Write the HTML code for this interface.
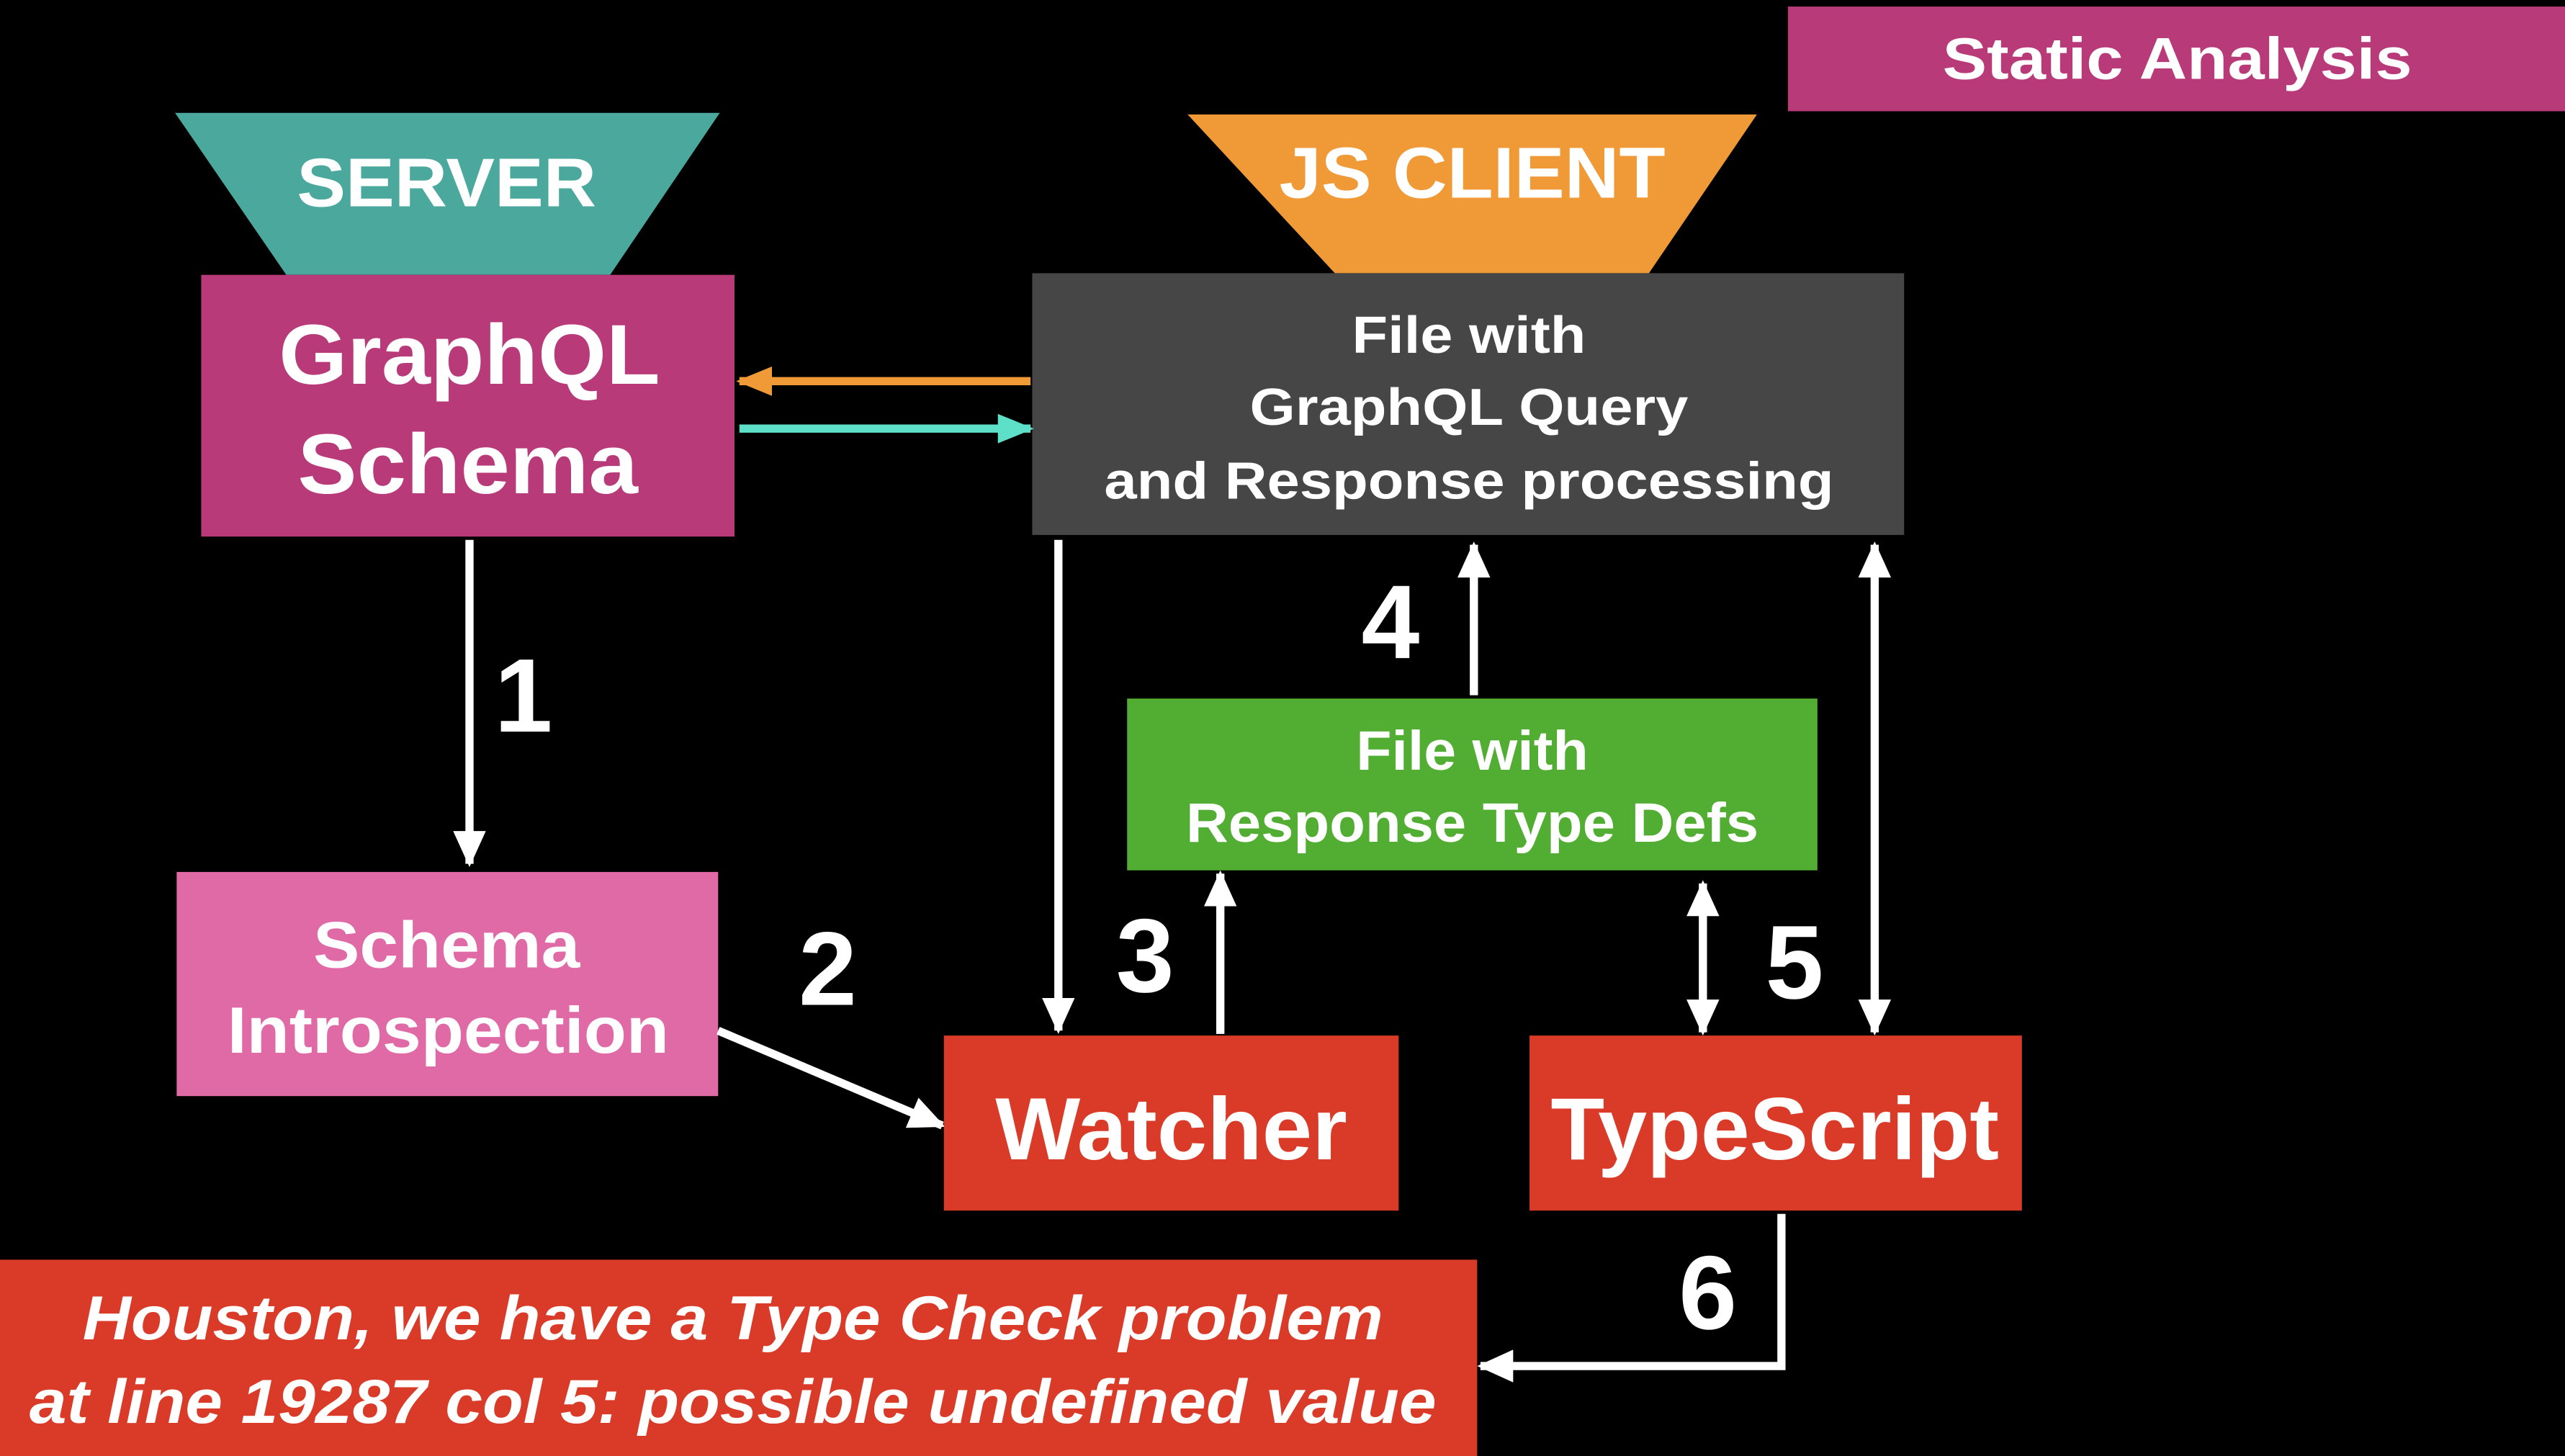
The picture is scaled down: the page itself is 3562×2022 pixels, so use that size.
<!DOCTYPE html>
<html><head><meta charset="utf-8"><style>
html,body{margin:0;padding:0;background:#000;}
svg{display:block;}
text{font-family:"Liberation Sans",sans-serif;font-weight:bold;fill:#fff;text-anchor:middle;dominant-baseline:central;}
</style></head><body>
<svg width="3562" height="2022" viewBox="0 0 1568 890" preserveAspectRatio="none" xmlns="http://www.w3.org/2000/svg">
<defs>
<marker id="wa" markerWidth="22" markerHeight="20" refX="20" refY="10" orient="auto-start-reverse" markerUnits="userSpaceOnUse"><path d="M0,0 L22,10 L0,20 z" fill="#fff"/></marker>
<marker id="oa" markerWidth="22" markerHeight="18" refX="20" refY="9" orient="auto" markerUnits="userSpaceOnUse"><path d="M0,0 L22,9 L0,18 z" fill="#f09a37"/></marker>
<marker id="ca" markerWidth="22" markerHeight="18" refX="20" refY="9" orient="auto" markerUnits="userSpaceOnUse"><path d="M0,0 L22,9 L0,18 z" fill="#5ee0c8"/></marker>
</defs>
<rect width="1568" height="890" fill="#000"/>

<rect x="1093" y="4" width="475" height="64" fill="#b83a78"/>
<text x="1331" y="36" font-size="36" textLength="287" lengthAdjust="spacingAndGlyphs">Static Analysis</text>

<polygon points="107,69 440,69 373,168 175,168" fill="#4ba89c"/>
<text x="273" y="112" font-size="42" textLength="183" lengthAdjust="spacingAndGlyphs">SERVER</text>
<rect x="123" y="168" width="326" height="160" fill="#b83a78"/>
<text x="287" y="217" font-size="52" textLength="233" lengthAdjust="spacingAndGlyphs">GraphQL</text>
<text x="286" y="284" font-size="52" textLength="208" lengthAdjust="spacingAndGlyphs">Schema</text>

<polygon points="726,70 1074,70 1008,167 816,167" fill="#f09a37"/>
<text x="900" y="106" font-size="44" textLength="236" lengthAdjust="spacingAndGlyphs">JS CLIENT</text>
<rect x="631" y="167" width="533" height="160" fill="#464646"/>
<text x="898" y="205" font-size="32" textLength="143" lengthAdjust="spacingAndGlyphs">File with</text>
<text x="898" y="249" font-size="32" textLength="268" lengthAdjust="spacingAndGlyphs">GraphQL Query</text>
<text x="898" y="294" font-size="32" textLength="446" lengthAdjust="spacingAndGlyphs">and Response processing</text>

<line x1="630" y1="233" x2="452" y2="233" stroke="#f09a37" stroke-width="5" marker-end="url(#oa)"/>
<line x1="452" y1="262" x2="630" y2="262" stroke="#5ee0c8" stroke-width="5" marker-end="url(#ca)"/>

<line x1="287" y1="330" x2="287" y2="528" stroke="#fff" stroke-width="5" marker-end="url(#wa)"/>
<text x="320" y="425" font-size="64">1</text>

<rect x="108" y="533" width="331" height="137" fill="#e06aa6"/>
<text x="273" y="578" font-size="40" textLength="163" lengthAdjust="spacingAndGlyphs">Schema</text>
<text x="274" y="630" font-size="40" textLength="270" lengthAdjust="spacingAndGlyphs">Introspection</text>

<line x1="439" y1="630" x2="576" y2="688" stroke="#fff" stroke-width="5" marker-end="url(#wa)"/>
<text x="506" y="592" font-size="64">2</text>

<rect x="577" y="633" width="278" height="107" fill="#d93b28"/>
<text x="716" y="690" font-size="54" textLength="215" lengthAdjust="spacingAndGlyphs">Watcher</text>

<line x1="647" y1="330" x2="647" y2="630" stroke="#fff" stroke-width="5" marker-end="url(#wa)"/>
<line x1="746" y1="632" x2="746" y2="534" stroke="#fff" stroke-width="5" marker-end="url(#wa)"/>
<text x="700" y="584" font-size="64">3</text>

<rect x="689" y="427" width="422" height="105" fill="#52ad33"/>
<text x="900" y="459" font-size="34" textLength="142" lengthAdjust="spacingAndGlyphs">File with</text>
<text x="900" y="503" font-size="34" textLength="350" lengthAdjust="spacingAndGlyphs">Response Type Defs</text>

<line x1="901" y1="425" x2="901" y2="333" stroke="#fff" stroke-width="5" marker-end="url(#wa)"/>
<text x="850" y="380" font-size="64">4</text>

<line x1="1041" y1="540" x2="1041" y2="631" stroke="#fff" stroke-width="5" marker-start="url(#wa)" marker-end="url(#wa)"/>
<text x="1097" y="588" font-size="64">5</text>
<line x1="1146" y1="333" x2="1146" y2="631" stroke="#fff" stroke-width="5" marker-start="url(#wa)" marker-end="url(#wa)"/>

<rect x="935" y="633" width="301" height="107" fill="#d93b28"/>
<text x="1085" y="690" font-size="54" textLength="274" lengthAdjust="spacingAndGlyphs">TypeScript</text>

<polyline points="1089,742 1089,835 905,835" fill="none" stroke="#fff" stroke-width="5" marker-end="url(#wa)"/>
<text x="1044" y="790" font-size="64">6</text>

<rect x="0" y="770" width="903" height="120" fill="#d93b28"/>
<text x="448" y="806" font-size="38" font-style="italic" textLength="795" lengthAdjust="spacingAndGlyphs">Houston, we have a Type Check problem</text>
<text x="448" y="857" font-size="38" font-style="italic" textLength="860" lengthAdjust="spacingAndGlyphs">at line 19287 col 5: possible undefined value</text>
</svg>
</body></html>
